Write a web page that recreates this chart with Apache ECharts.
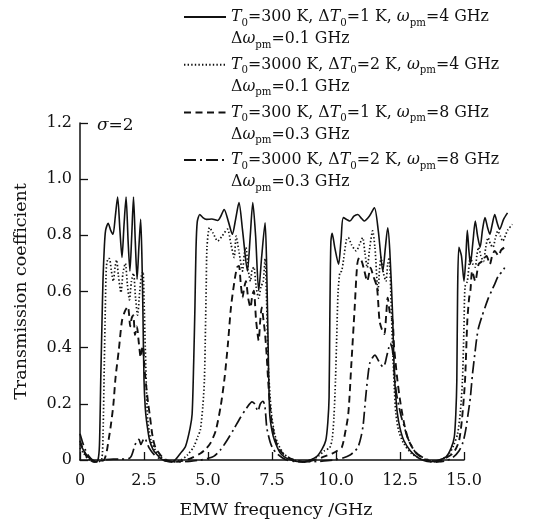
<!DOCTYPE html>
<html><head><meta charset="utf-8">
<script src="https://cdn.jsdelivr.net/npm/echarts@6/dist/echarts.min.js"></script>
<style>html,body{margin:0;padding:0;background:#fff}#c{width:535px;height:524px}</style>
</head><body><div id="c"></div>
<script>
// ---- data (x: EMW frequency GHz, y: transmission coefficient) ----
const xTicks = [0, 2.5, 5.0, 7.5, 10.0, 12.5, 15.0];
const yTicks = [0, 0.2, 0.4, 0.6, 0.8, 1.0, 1.2];
const seriesNames = ['s1', 's2', 's3', 's4'];
const legendLine1 = [
  '{i|T}{sub|0}=300 K, Δ{i|T}{sub|0}=1 K, {i|ω}{sub|pm}=4 GHz',
  '{i|T}{sub|0}=3000 K, Δ{i|T}{sub|0}=2 K, {i|ω}{sub|pm}=4 GHz',
  '{i|T}{sub|0}=300 K, Δ{i|T}{sub|0}=1 K, {i|ω}{sub|pm}=8 GHz',
  '{i|T}{sub|0}=3000 K, Δ{i|T}{sub|0}=2 K, {i|ω}{sub|pm}=8 GHz'
];
const legendLine2 = [
  'Δ{i|ω}{sub|pm}=0.1 GHz', 'Δ{i|ω}{sub|pm}=0.1 GHz',
  'Δ{i|ω}{sub|pm}=0.3 GHz', 'Δ{i|ω}{sub|pm}=0.3 GHz'
];

const solid = [[0,.065],[.15,.04],[.3,.02],[.45,.008],[.6,.002],[.7,.006],[.76,.06],[.81,.29],[.86,.5],[.9,.65],[.95,.76],[1.0,.82],[1.1,.845],[1.2,.82],[1.29,.806],[1.38,.87],[1.47,.938],[1.56,.82],[1.64,.724],[1.72,.84],[1.8,.938],[1.88,.78],[1.95,.676],[2.02,.8],[2.09,.938],[2.16,.78],[2.23,.647],[2.3,.76],[2.37,.859],[2.42,.72],[2.46,.52],[2.5,.29],[2.55,.19],[2.6,.145],[2.72,.076],[2.85,.045],[2.97,.03],[3.15,.013],[3.3,.005],[3.5,0],[3.7,.006],[3.92,.03],[4.12,.055],[4.3,.12],[4.38,.17],[4.44,.35],[4.49,.55],[4.53,.75],[4.58,.85],[4.68,.876],[4.8,.865],[4.94,.859],[5.15,.86],[5.38,.855],[5.5,.87],[5.63,.894],[5.8,.85],[5.95,.806],[6.08,.86],[6.21,.918],[6.35,.82],[6.54,.676],[6.65,.8],[6.75,.918],[6.86,.8],[6.98,.606],[7.1,.73],[7.23,.847],[7.29,.7],[7.35,.406],[7.41,.171],[7.5,.11],[7.6,.076],[7.8,.035],[7.98,.018],[8.3,.005],[8.6,0],[8.9,.004],[9.23,.018],[9.45,.045],[9.6,.076],[9.68,.14],[9.73,.23],[9.76,.52],[9.8,.78],[9.85,.81],[9.95,.76],[10.1,.7],[10.2,.79],[10.29,.865],[10.54,.853],[10.7,.87],[10.85,.876],[11.0,.862],[11.1,.853],[11.3,.87],[11.5,.9],[11.65,.82],[11.83,.676],[11.93,.76],[12.02,.829],[12.1,.75],[12.21,.524],[12.27,.335],[12.33,.24],[12.4,.17],[12.5,.12],[12.65,.076],[12.9,.04],[13.16,.018],[13.4,.006],[13.67,0],[14.0,.006],[14.3,.018],[14.5,.05],[14.62,.088],[14.68,.17],[14.72,.29],[14.75,.6],[14.8,.76],[14.9,.73],[15.0,.64],[15.07,.72],[15.13,.82],[15.19,.75],[15.25,.7],[15.35,.78],[15.44,.853],[15.53,.8],[15.63,.76],[15.72,.82],[15.82,.865],[15.92,.83],[16.01,.806],[16.1,.84],[16.2,.876],[16.3,.845],[16.39,.824],[16.55,.86],[16.7,.882]];

const dotted = [[0,.05],[.15,.03],[.3,.012],[.5,.003],[.7,0],[.85,.01],[.9,.1],[.95,.35],[.99,.55],[1.03,.69],[1.1,.72],[1.15,.72],[1.22,.68],[1.3,.64],[1.37,.69],[1.43,.715],[1.5,.66],[1.6,.6],[1.68,.67],[1.77,.703],[1.85,.63],[1.93,.574],[2.01,.64],[2.09,.668],[2.17,.58],[2.25,.52],[2.33,.6],[2.4,.66],[2.46,.674],[2.5,.58],[2.55,.406],[2.63,.17],[2.7,.11],[2.78,.076],[2.95,.04],[3.16,.018],[3.35,.006],[3.6,0],[3.9,.005],[4.2,.025],[4.45,.055],[4.6,.09],[4.7,.113],[4.8,.2],[4.86,.29],[4.9,.466],[4.93,.62],[4.96,.76],[5.06,.83],[5.2,.81],[5.38,.782],[5.55,.8],[5.76,.824],[5.9,.77],[6.02,.724],[6.1,.8],[6.2,.75],[6.35,.676],[6.42,.74],[6.48,.76],[6.57,.68],[6.66,.64],[6.72,.68],[6.79,.69],[6.88,.62],[6.98,.58],[7.07,.62],[7.16,.64],[7.23,.72],[7.28,.6],[7.35,.35],[7.42,.24],[7.48,.17],[7.6,.1],[7.73,.065],[7.95,.03],[8.22,.012],[8.45,.004],[8.7,0],[9.0,.006],[9.3,.02],[9.55,.04],[9.75,.05],[9.85,.08],[9.92,.16],[9.98,.29],[10.03,.45],[10.08,.6],[10.15,.67],[10.22,.676],[10.3,.72],[10.41,.788],[10.48,.794],[10.6,.77],[10.79,.747],[10.92,.77],[11.04,.794],[11.13,.74],[11.22,.688],[11.32,.76],[11.43,.818],[11.52,.76],[11.64,.606],[11.7,.68],[11.76,.724],[11.85,.67],[11.95,.64],[12.02,.7],[12.08,.724],[12.14,.6],[12.21,.406],[12.28,.26],[12.34,.17],[12.45,.11],[12.65,.065],[12.95,.03],[13.29,.012],[13.55,.004],[13.8,0],[14.1,.008],[14.43,.03],[14.6,.06],[14.75,.1],[14.86,.18],[14.94,.29],[15.0,.48],[15.04,.62],[15.13,.64],[15.25,.724],[15.35,.7],[15.44,.69],[15.5,.73],[15.57,.76],[15.66,.73],[15.76,.71],[15.85,.76],[15.94,.794],[16.04,.77],[16.13,.76],[16.22,.79],[16.32,.818],[16.42,.8],[16.51,.782],[16.7,.82],[16.89,.841]];

const dashed = [[0,.075],[.1,.05],[.25,.02],[.4,.007],[.55,0],[.75,.002],[.94,.007],[1.05,.04],[1.12,.08],[1.19,.12],[1.3,.2],[1.39,.3],[1.52,.4],[1.64,.5],[1.76,.535],[1.87,.55],[1.92,.52],[1.96,.48],[2.02,.51],[2.08,.52],[2.15,.45],[2.22,.48],[2.3,.42],[2.37,.37],[2.42,.4],[2.46,.41],[2.52,.33],[2.59,.265],[2.66,.21],[2.72,.17],[2.84,.088],[2.95,.05],[3.1,.03],[3.25,.014],[3.41,.006],[3.7,0],[4.0,.004],[4.3,.012],[4.7,.03],[4.9,.045],[5.09,.066],[5.3,.11],[5.5,.2],[5.65,.3],[5.78,.42],[5.9,.55],[6.05,.65],[6.14,.69],[6.21,.694],[6.28,.63],[6.35,.582],[6.42,.62],[6.48,.64],[6.57,.58],[6.66,.547],[6.73,.59],[6.79,.606],[6.88,.5],[6.98,.43],[7.04,.5],[7.1,.547],[7.17,.5],[7.23,.453],[7.29,.38],[7.35,.288],[7.42,.2],[7.48,.147],[7.6,.09],[7.73,.053],[7.95,.028],[8.22,.012],[8.5,.004],[8.8,0],[9.2,.008],[9.5,.018],[9.85,.03],[10.05,.04],[10.23,.053],[10.35,.1],[10.48,.17],[10.6,.347],[10.73,.547],[10.83,.7],[10.91,.724],[11.0,.712],[11.1,.68],[11.22,.64],[11.3,.67],[11.35,.688],[11.45,.66],[11.6,.618],[11.7,.5],[11.79,.47],[11.89,.453],[11.96,.52],[12.02,.582],[12.1,.53],[12.21,.5],[12.27,.406],[12.33,.35],[12.4,.288],[12.5,.22],[12.59,.17],[12.7,.12],[12.84,.076],[13.1,.035],[13.41,.012],[13.65,.004],[13.9,0],[14.2,.01],[14.56,.03],[14.7,.05],[14.81,.076],[14.92,.15],[15.04,.288],[15.13,.5],[15.2,.58],[15.25,.606],[15.32,.676],[15.44,.64],[15.57,.7],[15.7,.71],[15.88,.729],[16.01,.7],[16.1,.73],[16.2,.747],[16.35,.73],[16.45,.75],[16.57,.759]];

const dashDot = [[0,.1],[.1,.07],[.2,.045],[.35,.02],[.5,.006],[.65,0],[.8,.004],[1.0,.008],[1.3,.01],[1.6,.01],[1.9,.012],[2.0,.02],[2.08,.04],[2.15,.06],[2.22,.075],[2.3,.08],[2.38,.062],[2.45,.075],[2.52,.085],[2.6,.072],[2.7,.05],[2.88,.028],[3.1,.012],[3.4,.003],[3.8,0],[4.3,.002],[4.7,.007],[5.0,.013],[5.22,.02],[5.48,.042],[5.74,.076],[6.0,.115],[6.25,.155],[6.5,.19],[6.72,.213],[6.83,.205],[6.95,.18],[7.04,.205],[7.15,.215],[7.22,.2],[7.3,.12],[7.43,.07],[7.55,.045],[7.69,.03],[7.9,.015],[8.08,.007],[8.4,.002],[8.8,0],[9.3,.002],[9.9,.007],[10.3,.015],[10.55,.025],[10.75,.04],[10.87,.055],[10.98,.09],[11.06,.13],[11.15,.22],[11.24,.3],[11.32,.35],[11.43,.37],[11.52,.378],[11.65,.36],[11.75,.345],[11.84,.336],[11.92,.35],[11.97,.37],[12.05,.4],[12.12,.42],[12.2,.4],[12.28,.32],[12.35,.25],[12.45,.2],[12.55,.16],[12.65,.13],[12.78,.09],[12.91,.065],[13.1,.035],[13.41,.015],[13.7,.005],[14.0,0],[14.3,.005],[14.55,.015],[14.81,.04],[14.96,.07],[15.06,.11],[15.16,.17],[15.25,.23],[15.33,.31],[15.42,.38],[15.5,.44],[15.57,.476],[15.7,.515],[15.82,.547],[15.95,.58],[16.08,.606],[16.2,.63],[16.35,.66],[16.5,.675],[16.59,.688]];

const xDataMax = 17;

// ---- chart ----
const FONT = 'DejaVu Serif';
const INK = '#111';
const PXPERGHZ = 25.6;
const GL = 80, GT = 123, GB = 62;
const LFS = 15.8;
const chart = echarts.init(document.getElementById('c'), null, {renderer: 'canvas'});
const richTxt = {
  i: {fontStyle: 'italic', fontFamily: FONT, fontSize: LFS, color: INK},
  sub: {fontSize: 10.2, fontFamily: FONT, verticalAlign: 'bottom', lineHeight: 11, color: INK}
};
const curves = [solid, dotted, dashed, dashDot];
const styles = [
  {type: 'solid', width: 1.6},
  {type: [1.4, 2.2], width: 1.7},
  {type: [7, 4.5], width: 1.9},
  {type: [12, 4, 2, 4], width: 1.7}
];
const option = {
  backgroundColor: '#fff',
  animation: false,
  grid: [
    {left: GL, top: GT, bottom: GB, width: xDataMax * PXPERGHZ},
    {left: GL, top: GT, bottom: GB, width: xTicks[xTicks.length - 1] * PXPERGHZ}
  ],
  xAxis: [
    {gridIndex: 0, type: 'value', min: 0, max: xDataMax, show: false},
    {gridIndex: 1, type: 'value', min: xTicks[0], max: xTicks[xTicks.length - 1], interval: 2.5,
     axisLine: {show: true, lineStyle: {color: INK, width: 1.5}},
     axisTick: {show: true, inside: true, length: 8, lineStyle: {color: INK, width: 1.3}},
     splitLine: {show: false},
     axisLabel: {color: INK, fontFamily: FONT, fontSize: 16, margin: 13,
       formatter: v => v === 0 ? '0' : v.toFixed(1)},
     name: 'EMW frequency /GHz', nameLocation: 'middle', nameGap: 41,
     nameTextStyle: {color: INK, fontFamily: FONT, fontSize: 17.5, padding: [0, 0, 0, 8]}}
  ],
  yAxis: [
    {gridIndex: 0, type: 'value', min: 0, max: 1.2, show: false},
    {gridIndex: 1, type: 'value', min: yTicks[0], max: yTicks[yTicks.length - 1], interval: 0.2,
     axisLine: {show: true, lineStyle: {color: INK, width: 1.5}},
     axisTick: {show: true, inside: true, length: 8, lineStyle: {color: INK, width: 1.3}},
     splitLine: {show: false},
     axisLabel: {color: INK, fontFamily: FONT, fontSize: 16, margin: 8,
       formatter: v => v === 0 ? '0' : v.toFixed(1)},
     name: 'Transmission coefficient', nameLocation: 'middle', nameGap: 50,
     nameTextStyle: {color: INK, fontFamily: FONT, fontSize: 17.5}}
  ],
  legend: {
    orient: 'vertical', left: 183, top: -16, padding: 0,
    itemWidth: 42, itemHeight: 14, itemGap: -18.3,
    selectedMode: false,
    itemStyle: {opacity: 0},
    data: seriesNames,
    formatter: name => {
      const k = seriesNames.indexOf(name);
      return legendLine1[k] + '\n' + legendLine2[k];
    },
    textStyle: {color: INK, fontFamily: FONT, fontSize: LFS, lineHeight: 22,
      padding: [22, 0, 0, 0], rich: richTxt}
  },
  graphic: [{
    type: 'text', left: 97, top: 117,
    style: {text: '{i|σ}=2', fill: INK, font: '17px "DejaVu Serif"',
      rich: {i: {fontStyle: 'italic', fontFamily: FONT, fontSize: 17}}}
  }],
  series: curves.map((d, k) => ({
    name: seriesNames[k], type: 'line', xAxisIndex: 0, yAxisIndex: 0,
    data: d, symbol: 'none', showSymbol: false, smooth: 0.25,
    lineStyle: {color: INK, width: styles[k].width, type: styles[k].type},
    itemStyle: {color: INK}, z: 3
  }))
};
chart.setOption(option);
</script></body></html>
